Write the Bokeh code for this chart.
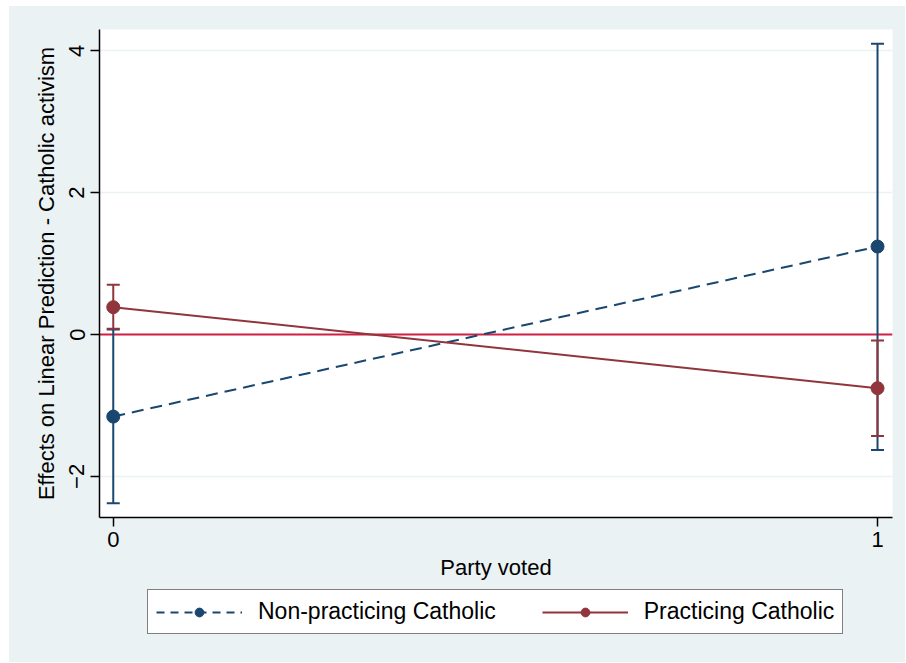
from bokeh.plotting import figure
from bokeh.layouts import column
from bokeh.models import (ColumnDataSource, Whisker, TeeHead, Span, Legend,
                          LegendItem, FixedTicker, Range1d)
from bokeh.embed import file_html
from bokeh.resources import INLINE

# ---- data ----
party = [0, 1]
nonprac_est = [-1.157, 1.24]
nonprac_lo = [-2.38, -1.63]
nonprac_hi = [0.07, 4.10]
prac_est = [0.385, -0.757]
prac_lo = [0.08, -1.43]
prac_hi = [0.70, -0.085]
y_ticks = [-2, 0, 2, 4]
x_ticks = [0, 1]
series_labels = ["Non-practicing Catholic", "Practicing Catholic"]

NAVY = "#1A476F"
MAROON = "#90353B"
REF = "#D21F45"
BG = "#EAF2F3"
FONT = "Liberation Sans"
DASH = "12 7"

src_np = ColumnDataSource(dict(x=party, y=nonprac_est, lo=nonprac_lo, hi=nonprac_hi))
src_p = ColumnDataSource(dict(x=party, y=prac_est, lo=prac_lo, hi=prac_hi))

p = figure(width=896, height=579, output_backend="svg", toolbar_location=None,
           x_range=Range1d(-0.018, 1.0196), y_range=Range1d(-2.58, 4.30),
           min_border_left=90, min_border_top=23, min_border_right=13,
           min_border_bottom=68)

p.background_fill_color = "white"
p.border_fill_color = BG
p.outline_line_color = None

# zero reference line
p.add_layout(Span(location=0, dimension="width", line_color=REF, line_width=2,
                  level="underlay"))

# confidence intervals
for src, col in ((src_np, NAVY), (src_p, MAROON)):
    w = Whisker(source=src, base="x", upper="hi", lower="lo",
                line_color=col, line_width=2,
                upper_head=TeeHead(size=13, line_color=col, line_width=2),
                lower_head=TeeHead(size=13, line_color=col, line_width=2))
    p.add_layout(w)

p.line("x", "y", source=src_np, line_color=NAVY, line_width=2, line_dash=DASH)
p.scatter("x", "y", source=src_np, size=13, fill_color=NAVY, line_color=NAVY)
p.line("x", "y", source=src_p, line_color=MAROON, line_width=2)
p.scatter("x", "y", source=src_p, size=13, fill_color=MAROON, line_color=MAROON)

# axes
p.xaxis.ticker = FixedTicker(ticks=x_ticks)
p.yaxis.ticker = FixedTicker(ticks=y_ticks)
p.xaxis.axis_label = "Party voted"
p.yaxis.axis_label = "Effects on Linear Prediction - Catholic activism"
for ax in (p.xaxis[0], p.yaxis[0]):
    ax.axis_label_text_font = FONT
    ax.axis_label_text_font_size = "22px"
    ax.axis_label_text_font_style = "normal"
    ax.axis_label_text_color = "black"
    ax.major_label_text_font = FONT
    ax.major_label_text_font_size = "22px"
    ax.major_label_text_color = "black"
    ax.axis_line_color = "black"
    ax.axis_line_width = 1.5
    ax.major_tick_line_color = "black"
    ax.major_tick_line_width = 1.5
    ax.major_tick_out = 9
    ax.major_tick_in = 0
    ax.minor_tick_line_color = None
p.yaxis.major_label_orientation = "vertical"
p.yaxis.major_label_standoff = 6
p.yaxis.axis_label_standoff = 8
p.xaxis.major_label_standoff = 5
p.xaxis.axis_label_standoff = 5

p.xgrid.visible = False
p.ygrid.grid_line_color = BG
p.ygrid.grid_line_width = 1.5

# ---- legend strip (separate figure so it is not clipped) ----
# its ranges keep the data itself off-screen; only the legend is seen
pl = figure(width=896, height=77, output_backend="svg", toolbar_location=None,
            x_range=Range1d(10, 11), y_range=Range1d(10, 11),
            x_axis_location=None, y_axis_location=None,
            min_border_left=0, min_border_right=0,
            min_border_top=0, min_border_bottom=0)
pl.background_fill_color = BG
pl.border_fill_color = BG
pl.outline_line_color = None
pl.grid.visible = False
k1 = pl.line("x", "y", source=src_np, line_color=NAVY, line_width=2, line_dash="8 6")
m1 = pl.scatter("x", "y", source=src_np, size=13, fill_color=NAVY, line_color=NAVY)
k2 = pl.line("x", "y", source=src_p, line_color=MAROON, line_width=2)
m2 = pl.scatter("x", "y", source=src_p, size=13, fill_color=MAROON, line_color=MAROON)

legend = Legend(items=[LegendItem(label=series_labels[0], renderers=[k1, m1]),
                       LegendItem(label=series_labels[1], renderers=[k2, m2])],
                orientation="horizontal", location=(48, 28),
                border_line_color="black", border_line_width=1.2,
                background_fill_color="white", background_fill_alpha=1,
                label_text_font=FONT, label_text_font_size="23px",
                label_text_color="black",
                glyph_width=86, glyph_height=22, label_standoff=16,
                spacing=46, padding=8, margin=0)
pl.add_layout(legend, "center")

layout = column(p, pl, spacing=0, margin=(6, 0, 0, 9),
                styles={"background-color": BG})

open("out.html", "w").write(file_html(layout, INLINE))
